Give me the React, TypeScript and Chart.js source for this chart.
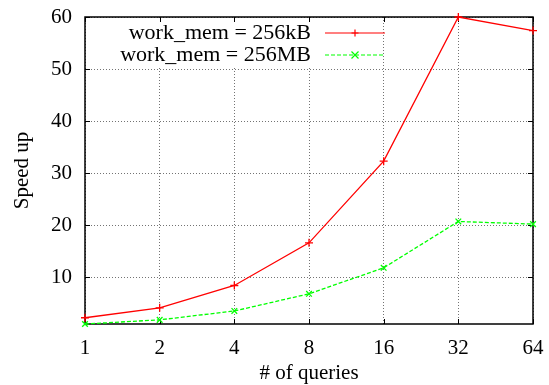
import React, { useEffect, useRef } from 'react';
import { Chart, registerables } from 'chart.js';

Chart.register(...registerables);

const categories = ['1', '2', '4', '8', '16', '32', '64'];
const speedup256kB = [2.2, 4.1, 8.4, 16.6, 32.3, 60, 57.4];
const speedup256MB = [1.0, 1.8, 3.5, 6.8, 11.8, 20.7, 20.2];
const yTickValues = [10, 20, 30, 40, 50, 60];
const seriesLabels = ['work_mem = 256kB', 'work_mem = 256MB'];
const xTitle = '# of queries';
const yTitle = 'Speed up';

const FONT = '"Liberation Serif", "Times New Roman", serif';
const FS = 21;
const RED = '#ff0000';
const GREEN = '#00ff00';

const framePlugin = {
  id: 'frame',
  beforeDatasetsDraw(chart: any) {
    const { ctx, chartArea: a, scales } = chart;
    ctx.save();
    // opaque key box hides the grid behind the legend
    ctx.fillStyle = '#fff';
    ctx.fillRect(118, a.top + 1, 264, 49);
    ctx.strokeStyle = '#000';
    ctx.lineWidth = 1.5;
    ctx.setLineDash([]);
    ctx.strokeRect(a.left, a.top, a.right - a.left, a.bottom - a.top);
    ctx.lineWidth = 1;
    const tl = 5;
    scales.x.ticks.forEach((_: any, i: number) => {
      const x = Math.round(scales.x.getPixelForTick(i)) + 0.5;
      ctx.beginPath();
      ctx.moveTo(x, a.bottom); ctx.lineTo(x, a.bottom - tl);
      ctx.moveTo(x, a.top); ctx.lineTo(x, a.top + tl);
      ctx.stroke();
    });
    yTickValues.forEach((v) => {
      const y = Math.round(scales.y.getPixelForValue(v)) + 0.5;
      ctx.beginPath();
      ctx.moveTo(a.left, y); ctx.lineTo(a.left + tl, y);
      ctx.moveTo(a.right, y); ctx.lineTo(a.right - tl, y);
      ctx.stroke();
    });
    ctx.restore();
  },
  afterDatasetsDraw(chart: any) {
    const { ctx, chartArea: a } = chart;
    ctx.save();
    ctx.fillStyle = '#000';
    ctx.font = `${FS}px ${FONT}`;
    ctx.textAlign = 'center';
    ctx.textBaseline = 'middle';
    ctx.fillText(xTitle, (a.left + a.right) / 2, 373);
    ctx.save();
    ctx.translate(22, (a.top + a.bottom) / 2);
    ctx.rotate(-Math.PI / 2);
    ctx.fillText(yTitle, 0, 0);
    ctx.restore();
    ctx.font = `22px ${FONT}`;
    const rows = [
      { label: seriesLabels[0], color: RED, dash: [] as number[], style: 'plus', y: 33 },
      { label: seriesLabels[1], color: GREEN, dash: [4, 2], style: 'x', y: 55 },
    ];
    rows.forEach((r) => {
      ctx.fillStyle = '#000';
      ctx.textAlign = 'right';
      ctx.textBaseline = 'middle';
      ctx.fillText(r.label, 311, r.y);
      ctx.strokeStyle = r.color;
      ctx.lineWidth = 1.2;
      ctx.setLineDash(r.dash);
      ctx.beginPath();
      ctx.moveTo(325, r.y); ctx.lineTo(385, r.y);
      ctx.stroke();
      ctx.setLineDash([]);
      const cx = 355, s = 3.5;
      ctx.beginPath();
      if (r.style === 'plus') {
        ctx.moveTo(cx - s, r.y); ctx.lineTo(cx + s, r.y);
        ctx.moveTo(cx, r.y - s); ctx.lineTo(cx, r.y + s);
      } else {
        ctx.moveTo(cx - s, r.y - s); ctx.lineTo(cx + s, r.y + s);
        ctx.moveTo(cx - s, r.y + s); ctx.lineTo(cx + s, r.y - s);
      }
      ctx.stroke();
    });
    ctx.restore();
  },
};

export default function App() {
  const ref = useRef<HTMLCanvasElement | null>(null);
  useEffect(() => {
    document.body.style.margin = '0';
    const canvas = ref.current!;
    const chart = new Chart(canvas, {
      type: 'line',
      data: {
        labels: categories,
        datasets: [
          {
            label: seriesLabels[0],
            data: speedup256kB,
            borderColor: RED,
            backgroundColor: RED,
            borderWidth: 1.3,
            pointStyle: 'cross',
            pointRadius: 4,
            pointBorderWidth: 1.3,
            tension: 0,
            clip: false as any,
          },
          {
            label: seriesLabels[1],
            data: speedup256MB,
            borderColor: GREEN,
            backgroundColor: GREEN,
            borderWidth: 1.3,
            borderDash: [4, 2],
            pointStyle: 'crossRot',
            pointRadius: 4,
            pointBorderWidth: 1.3,
            tension: 0,
            clip: false as any,
          },
        ],
      },
      options: {
        animation: false,
        responsive: false,
        devicePixelRatio: 1,
        layout: { autoPadding: false, padding: { left: 0, top: 17, right: 16, bottom: 0 } },
        plugins: { legend: { display: false }, tooltip: { enabled: false } },
        scales: {
          x: {
            type: 'category',
            offset: false,
            afterFit: (s: any) => { s.height = 61; s.paddingLeft = 0; s.paddingRight = 0; },
            grid: { color: 'rgba(0,0,0,0.55)', lineWidth: 1, drawTicks: false },
            border: { display: false, dash: [1, 2] },
            ticks: { color: '#000', font: { family: FONT, size: FS }, padding: 12, maxRotation: 0, autoSkip: false },
          },
          y: {
            type: 'linear',
            min: 1,
            max: 60,
            afterFit: (s: any) => { s.width = 85; s.paddingTop = 0; s.paddingBottom = 0; },
            afterBuildTicks: (s: any) => { s.ticks = yTickValues.map((v) => ({ value: v })); },
            grid: { color: 'rgba(0,0,0,0.55)', lineWidth: 1, drawTicks: false },
            border: { display: false, dash: [1, 2] },
            ticks: { color: '#000', font: { family: FONT, size: FS }, padding: 13 },
          },
        },
      },
      plugins: [framePlugin],
    });
    return () => chart.destroy();
  }, []);
  return (
    <div style={{ position: 'absolute', left: 0, top: 0, width: 549, height: 385 }}>
      <canvas ref={ref} width={549} height={385} style={{ width: 549, height: 385 }} />
    </div>
  );
}
